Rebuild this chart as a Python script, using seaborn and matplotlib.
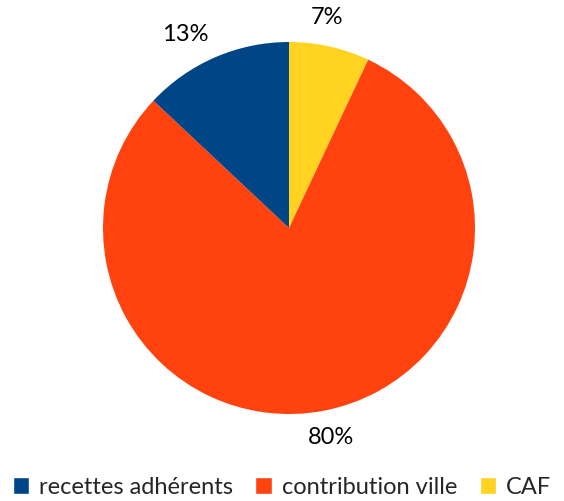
import matplotlib
matplotlib.use("Agg")
import matplotlib.pyplot as plt
from matplotlib.patches import Patch
import seaborn as sns

# DATA (clockwise from 12 o'clock)
categories = ["CAF", "contribution ville", "recettes adhérents"]
shares = [7, 80, 13]
colors = ["#ffd320", "#ff420e", "#004586"]
legend_order = ["recettes adhérents", "contribution ville", "CAF"]

# label anchors in data units (radius = 1)
label_pos = {"CAF": (0.204, 1.134), "contribution ville": (0.226, -1.124),
             "recettes adhérents": (-0.559, 1.038)}

sns.set_theme(style="white")
plt.rcParams["font.family"] = ["Lato", "DejaVu Sans"]

W, H = 564, 501
fig = plt.figure(figsize=(W / 100, H / 100), dpi=100)
cx, cy, r = 289, 228, 186
ax = fig.add_axes([(cx - r) / W, (H - cy - r) / H, 2 * r / W, 2 * r / H])

ax.pie(shares, colors=colors, startangle=90, counterclock=False,
       radius=1, wedgeprops=dict(linewidth=0))
ax.set_xlim(-1, 1)
ax.set_ylim(-1, 1)
ax.set_aspect("equal")
ax.axis("off")

for cat, val in zip(categories, shares):
    x, y = label_pos[cat]
    ax.text(x, y, f"{val}%", ha="center", va="center", fontsize=17,
            color="#000000", clip_on=False)

handles = [Patch(facecolor=colors[categories.index(c)], label=c) for c in legend_order]
fig.legend(handles=handles, loc="center", bbox_to_anchor=(0.5, (H - 487) / H),
           ncol=3, frameon=False, fontsize=17, handlelength=0.7,
           handleheight=0.7, handletextpad=0.42, columnspacing=0.95,
           borderpad=0, borderaxespad=0)

fig.savefig("out.png", dpi=100, facecolor="white")
